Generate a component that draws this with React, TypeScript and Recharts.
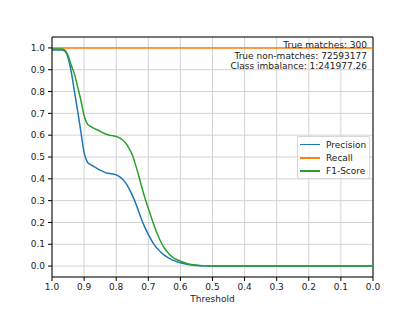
import {
  CartesianGrid,
  Line,
  LineChart,
  ReferenceLine,
  XAxis,
  YAxis,
} from "recharts";

const thresholds = [
  1.0, 0.98, 0.97, 0.96, 0.95, 0.94, 0.93, 0.92, 0.91, 0.9, 0.89, 0.88, 0.87,
  0.86, 0.85, 0.84, 0.83, 0.82, 0.81, 0.8, 0.79, 0.78, 0.77, 0.76, 0.75, 0.74,
  0.73, 0.72, 0.71, 0.7, 0.69, 0.68, 0.67, 0.66, 0.65, 0.64, 0.63, 0.62, 0.61,
  0.6, 0.58, 0.56, 0.54, 0.52, 0.5, 0.4, 0.3, 0.2, 0.1, 0.0,
];

const precision = [
  0.99, 0.99, 0.99, 0.985, 0.955, 0.89, 0.8, 0.71, 0.615, 0.52, 0.478, 0.465,
  0.457, 0.448, 0.44, 0.433, 0.427, 0.424, 0.422, 0.418, 0.41, 0.398, 0.38,
  0.355, 0.325, 0.29, 0.25, 0.21, 0.175, 0.145, 0.118, 0.095, 0.078, 0.062,
  0.05, 0.04, 0.032, 0.025, 0.02, 0.015, 0.008, 0.004, 0.002, 0.001, 0, 0, 0,
  0, 0, 0,
];

const recall = [
  1, 1, 1, 1, 1, 1, 1, 1, 1, 1, 1, 1, 1, 1, 1, 1, 1, 1, 1, 1, 1, 1, 1, 1, 1, 1,
  1, 1, 1, 1, 1, 1, 1, 1, 1, 1, 1, 1, 1, 1, 1, 1, 1, 1, 1, 1, 1, 1, 1, 1,
];

const f1Score = [
  0.995, 0.995, 0.995, 0.99, 0.965, 0.92, 0.88, 0.82, 0.76, 0.69, 0.652, 0.64,
  0.632, 0.625, 0.618, 0.61, 0.604, 0.6, 0.597, 0.594, 0.588, 0.578, 0.563,
  0.54, 0.51, 0.465, 0.415, 0.36, 0.31, 0.265, 0.22, 0.178, 0.14, 0.108, 0.083,
  0.063, 0.048, 0.037, 0.029, 0.022, 0.012, 0.006, 0.003, 0.001, 0, 0, 0, 0, 0,
  0,
];

const xTicks = [1.0, 0.9, 0.8, 0.7, 0.6, 0.5, 0.4, 0.3, 0.2, 0.1, 0.0];
const yTicks = [0.0, 0.1, 0.2, 0.3, 0.4, 0.5, 0.6, 0.7, 0.8, 0.9, 1.0];

const notes = [
  "True matches: 300",
  "True non-matches: 72593177",
  "Class imbalance: 1:241977.26",
];

const series = [
  { key: "precision", name: "Precision", color: "#1f77b4" },
  { key: "recall", name: "Recall", color: "#ff7f0e" },
  { key: "f1", name: "F1-Score", color: "#2ca02c" },
];

const data = thresholds.map((t, i) => ({
  threshold: t,
  precision: precision[i],
  recall: recall[i],
  f1: f1Score[i],
}));

const font = "'DejaVu Sans', sans-serif";
const tickStyle = { fontSize: 9, fill: "#222", fontFamily: font };

function LegendBox() {
  return (
    <div
      style={{
        position: "absolute",
        left: 297,
        top: 136,
        width: 71,
        height: 40,
        border: "1px solid #d6d6d6",
        borderRadius: 2,
        background: "rgba(255,255,255,0.8)",
        fontSize: 9,
        color: "#222",
        paddingTop: 1,
      }}
    >
      {series.map((s) => (
        <div
          key={s.key}
          style={{ display: "flex", alignItems: "center", height: 13.3 }}
        >
          <div
            style={{
              marginLeft: 2,
              width: 20,
              height: 1.5,
              background: s.color,
            }}
          />
          <span style={{ marginLeft: 6 }}>{s.name}</span>
        </div>
      ))}
    </div>
  );
}

export default function App() {
  return (
    <div
      style={{
        position: "absolute",
        left: 0,
        top: 0,
        width: 415,
        height: 312,
        background: "#fff",
        fontFamily: font,
      }}
    >
      <LineChart
        width={415}
        height={312}
        data={data}
        margin={{ top: 37, right: 42, left: 0, bottom: 0 }}
      >
        <CartesianGrid stroke="#d3d3d3" strokeWidth={1} />
        <XAxis
          dataKey="threshold"
          type="number"
          domain={[0, 1]}
          reversed
          ticks={xTicks}
          interval={0}
          tickFormatter={(v: number) => v.toFixed(1)}
          allowDataOverflow
          height={35}
          stroke="#000"
          tickSize={4}
          tickMargin={3}
          tick={tickStyle}
        />
        <YAxis
          type="number"
          domain={[-0.05, 1.05]}
          ticks={yTicks}
          interval={0}
          tickFormatter={(v: number) => v.toFixed(1)}
          allowDataOverflow
          width={52}
          stroke="#000"
          tickSize={4}
          tickMargin={3}
          tick={tickStyle}
        />
        <ReferenceLine y={1.05} stroke="#000" strokeWidth={1} />
        <ReferenceLine x={0} stroke="#000" strokeWidth={1} />
        {series.map((s) => (
          <Line
            key={s.key}
            type="monotone"
            dataKey={s.key}
            name={s.name}
            stroke={s.color}
            strokeWidth={1.5}
            dot={false}
            isAnimationActive={false}
          />
        ))}
      </LineChart>
      <LegendBox />
      <div
        style={{
          position: "absolute",
          right: 415 - 367,
          top: 40,
          textAlign: "right",
          fontSize: 9,
          lineHeight: "10.5px",
          color: "#222",
        }}
      >
        {notes.map((n) => (
          <div key={n}>{n}</div>
        ))}
      </div>
      <div
        style={{
          position: "absolute",
          left: 52,
          width: 321,
          top: 294,
          textAlign: "center",
          fontSize: 9,
          color: "#222",
        }}
      >
        Threshold
      </div>
    </div>
  );
}
